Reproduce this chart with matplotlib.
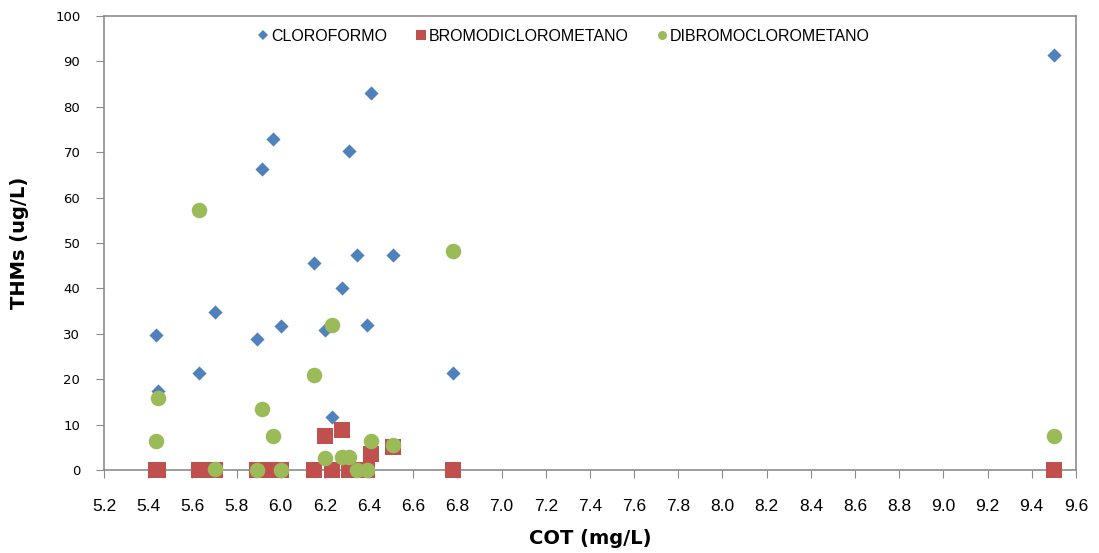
import matplotlib.pyplot as plt
from matplotlib.lines import Line2D

# COT (mg/L) for each sample
cot = [5.435, 5.446, 5.631, 5.701, 5.892, 5.915, 5.965, 6.00, 6.15, 6.20,
       6.232, 6.276, 6.31, 6.345, 6.393, 6.411, 6.508, 6.778, 9.50]

cloroformo = [29.7, 17.4, 21.4, 34.9, 28.9, 66.3, 72.9, 31.7, 45.7, 30.8,
              11.7, 40.2, 70.2, 47.4, 31.9, 83.0, 47.4, 21.4, 91.4]
bromodiclorometano = [0.0, 0.0, 0.0, 0.0, 0.0, 0.0, 0.0, 0.0, 0.0, 7.5,
                      0.0, 8.8, 0.0, 0.0, 0.0, 3.5, 5.0, 0.0, 0.0]
dibromoclorometano = [6.4, 15.8, 57.3, 0.2, 0.0, 13.4, 7.5, 0.0, 20.9, 2.6,
                      31.9, 2.9, 2.9, 0.0, 0.0, 6.4, 5.6, 48.2, 7.5]

labels = ["CLOROFORMO", "BROMODICLOROMETANO", "DIBROMOCLOROMETANO"]
colors = ["#4F81BD", "#C0504D", "#9BBB59"]

xticks = [round(5.2 + 0.2 * i, 1) for i in range(23)]
yticks = list(range(0, 101, 10))


def main():
    fig = plt.figure(figsize=(10.99, 5.53), dpi=100)
    ax = fig.add_axes([0.0946, 0.150, 0.8844, 0.821])

    ax.scatter(cot, cloroformo, marker="D", s=52, color=colors[0], zorder=3,
               linewidths=0, clip_on=False)
    ax.scatter(cot, bromodiclorometano, marker="s", s=125, color=colors[1], zorder=4,
               linewidths=0, clip_on=False)
    ax.scatter(cot, dibromoclorometano, marker="o", s=125, color=colors[2], zorder=5,
               linewidths=0, clip_on=False)

    ax.set_xlim(5.2, 9.6)
    ax.set_ylim(0, 100)
    ax.set_xticks(xticks)
    ax.set_xticklabels(["%.1f" % t for t in xticks])
    ax.set_yticks(yticks)

    for sp in ax.spines.values():
        sp.set_color("#8c8c8c")
        sp.set_linewidth(1.2)
        sp.set_zorder(2)

    ax.tick_params(axis="x", direction="out", length=6, color="#8c8c8c", pad=15)
    ax.tick_params(axis="y", direction="out", length=6, color="#8c8c8c", pad=11)
    for t in ax.get_xticklabels():
        t.set_fontfamily("Liberation Sans")
        t.set_fontsize(12.5)
    for t in ax.get_yticklabels():
        t.set_fontfamily("DejaVu Sans")
        t.set_fontsize(9.5)

    ax.set_xlabel("COT (mg/L)", fontsize=14, fontweight="bold",
                  family="DejaVu Sans", labelpad=11)
    ax.set_ylabel("THMs (ug/L)", fontsize=14, fontweight="bold",
                  family="DejaVu Sans", labelpad=19)

    handles = [
        Line2D([], [], marker="D", linestyle="none", markersize=5, color=colors[0], markeredgewidth=0),
        Line2D([], [], marker="s", linestyle="none", markersize=7, color=colors[1], markeredgewidth=0),
        Line2D([], [], marker="o", linestyle="none", markersize=6.5, color=colors[2], markeredgewidth=0),
    ]
    ax.legend(handles, labels, loc="center", bbox_to_anchor=(0.472, 0.956), ncol=3,
              frameon=False, handletextpad=0.0, columnspacing=1.6, handlelength=1.0,
              prop={"family": "Liberation Sans", "size": 11.5})

    fig.savefig("out.png", dpi=100)


if __name__ == "__main__":
    main()
